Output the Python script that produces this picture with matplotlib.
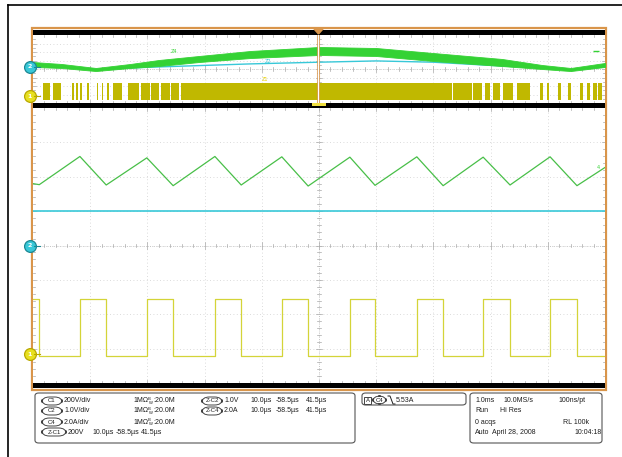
import matplotlib
matplotlib.use('Agg')
import matplotlib.pyplot as plt
from matplotlib.patches import Rectangle, FancyBboxPatch
import numpy as np

W, H = 622, 457

# ---------------- data ----------------
# main (zoomed) window: time in µs, values in divisions
green_t = [-58.5, -57.4, -50.3, -45.7, -38.6, -34.0, -26.7, -22.1, -15.0, -10.4,
           -3.1, 1.3, 8.6, 13.2, 20.2, 24.9, 31.9, 36.6, 41.5]
green_v = [1.80, 1.77, 2.59, 1.76, 2.55, 1.74, 2.59, 1.76, 2.58, 1.73,
           2.57, 1.75, 2.58, 1.74, 2.57, 1.76, 2.58, 1.74, 2.27]
cyan_level = 0.99
sw_rise_t = [-50.3, -38.6, -26.7, -15.0, -3.1, 8.6, 20.2, 31.9]
sw_fall_t = [-57.4, -45.7, -34.0, -22.1, -10.4, 1.3, 13.2, 24.9, 36.6]
sw_high = -1.57
sw_low = -3.20

# overview window: time in ms, values in divisions
env_t = [-5.0, -4.5, -3.9, -3.3, -2.8, -2.1, -1.2, 0.0, 1.0, 2.0, 3.2, 3.9, 4.4, 5.0]
env_hi = [0.82, 0.59, 0.12, 0.59, 1.06, 1.53, 2.12, 2.59, 2.47, 1.88, 1.18, 0.47, 0.12, 0.71]
env_lo = [0.24, 0.12, -0.24, 0.12, 0.35, 0.82, 1.29, 1.65, 1.53, 0.94, 0.35, 0.00, -0.24, 0.24]
cyan_top_t = [-5.0, -4.5, -3.9, -3.0, -2.1, -1.2, 0.0, 1.0, 2.0, 3.2, 3.9, 4.4, 5.0]
cyan_top_v = [0.45, 0.30, -0.05, 0.20, 0.40, 0.60, 0.80, 0.95, 0.80, 0.35, 0.12, -0.10, 0.25]
burst_start = [-4.83, -4.65, -4.32, -4.25, -4.18, -4.06, -3.88, -3.79, -3.71, -3.60,
               -3.34, -3.12, -2.94, -2.77, -2.59, -2.42, 2.35, 2.69, 2.90, 3.04,
               3.22, 3.46, 3.86, 3.99, 4.18, 4.35, 4.56, 4.69, 4.79, 4.88]
burst_end = [-4.70, -4.51, -4.28, -4.21, -4.14, -4.02, -3.86, -3.77, -3.67, -3.44,
             -3.14, -2.96, -2.79, -2.61, -2.44, 2.33, 2.67, 2.85, 2.99, 3.16,
             3.39, 3.69, 3.92, 4.02, 4.23, 4.41, 4.62, 4.74, 4.86, 4.95]
burst_lo, burst_hi = -3.65, -1.65

# readout panel text
ch_rows = [("C1", "200V/div"), ("C2", "1.0V/div"), ("C4", "2.0A/div")]
zoom_rows = [("Z-C2", "1.0V"), ("Z-C4", "2.0A")]
zoom_times = ["10.0µs", "-58.5µs", "41.5µs"]
acq_rows = [["1.0ms", "10.0MS/s", "100ns/pt"],
            ["Run", "Hi Res", ""],
            ["0 acqs", "", "RL 100k"],
            ["Auto", "April 28, 2008", "10:04:18"]]
trig_text = "5.53A"

# ---------------- colours ----------------
GREEN = '#34d234'
GREEN_D = '#48bf48'
CYAN = '#38c8d8'
YEL = '#d4d438'
YEL_D = '#c0b800'
ORANGE = '#d9954a'
TXT = '#1e1e1e'

fig = plt.figure(figsize=(W / 100, H / 100), dpi=100)
fig.patch.set_facecolor('white')


def fx(px):
    return px / W


def fy(py):
    return 1 - py / H


def prect(x0, y0, x1, y1, **kw):
    r = Rectangle((fx(x0), fy(y1)), fx(x1) - fx(x0), fy(y0) - fy(y1),
                  transform=fig.transFigure, **kw)
    fig.add_artist(r)
    return r


# outer frame lines
fig.add_artist(plt.Line2D([fx(8), fx(622)], [fy(5), fy(5)], color='black', lw=1.2,
                          transform=fig.transFigure))
fig.add_artist(plt.Line2D([fx(8), fx(8)], [fy(5), fy(457)], color='black', lw=1.2,
                          transform=fig.transFigure))

# orange screen border
prect(32, 28, 606, 390, facecolor='white', edgecolor=ORANGE, lw=1.6, zorder=0)

TICK = '#a8a8a8'


def setup(ax, xmin, xdiv, ypx, ystep):
    ax.set_facecolor('white')
    for s in ax.spines.values():
        s.set_visible(False)
    ax.set_xticks([])
    ax.set_yticks([])
    xmax = xmin + 10 * xdiv
    ax.set_xlim(xmin, xmax)
    ax.set_ylim(-4, 4)
    for k in range(1, 10):
        ax.axvline(xmin + k * xdiv, color='#cfcfcf', lw=0.6, ls=(0, (1, 3)), zorder=1)
    for k in range(-3, 4):
        ax.axhline(k, color='#cfcfcf', lw=0.6, ls=(0, (1, 3)), zorder=1)
    xc = xmin + 5 * xdiv
    nx = 50
    tx = [xmin + i * xdiv / 5 for i in range(1, nx)]
    ny = int(round(8 / ystep))
    ty = [-4 + i * ystep for i in range(1, ny)]
    hx = 2.0 * xdiv / 57.2
    hy = 2.0 / ypx
    for t in tx:
        major = abs((t - xmin) / xdiv - round((t - xmin) / xdiv)) < 1e-6
        f = 1.6 if major else 1.0
        ax.plot([t, t], [-hy * f, hy * f], color=TICK, lw=0.5, zorder=1)
        ax.plot([t, t], [-4, -4 + hy * f], color=TICK, lw=0.5, zorder=1)
        ax.plot([t, t], [4, 4 - hy * f], color=TICK, lw=0.5, zorder=1)
    for v in ty:
        major = abs(v - round(v)) < 1e-6
        f = 1.6 if major else 1.0
        ax.plot([xc - hx * f, xc + hx * f], [v, v], color=TICK, lw=0.5, zorder=1)
        ax.plot([xmin, xmin + hx * f], [v, v], color=TICK, lw=0.5, zorder=1)
        ax.plot([xmax, xmax - hx * f], [v, v], color=TICK, lw=0.5, zorder=1)
    ax.axhline(0, color='#b0b0b0', lw=0.5, ls=(0, (1, 2)), zorder=1)
    ax.axvline(xc, color='#b0b0b0', lw=0.5, ls=(0, (1, 2)), zorder=1)


def marker(ax, yval, num, face, edge):
    tr = ax.get_yaxis_transform()
    ax.plot([-0.006], [yval], marker='o', ms=8.5, mfc=face, mec=edge, mew=0.9,
            transform=tr, clip_on=False, zorder=6)
    ax.text(-0.006, yval, num, transform=tr, ha='center', va='center',
            fontsize=4.5, color='white', fontweight='bold', zorder=7, clip_on=False)
    ax.plot([0.002, 0.012], [yval, yval], color=edge, lw=0.8, transform=tr,
            clip_on=False, zorder=6)


# ---------------- overview window ----------------
ax_top = fig.add_axes([fx(33), fy(103), fx(605) - fx(33), fy(35) - fy(103)])
setup(ax_top, -5.0, 1.0, 8.5, 0.5)
ax_top.fill_between(env_t, env_lo, env_hi, color=GREEN, lw=0.6, edgecolor=GREEN, zorder=3)
ax_top.plot(cyan_top_t, cyan_top_v, color=CYAN, lw=1.0, zorder=2)
ax_top.broken_barh([(s, e - s) for s, e in zip(burst_start, burst_end)],
                   (burst_lo, burst_hi - burst_lo), facecolor=YEL_D, edgecolor='none', zorder=3)
ax_top.text(-2.6, 1.9, "Z4", fontsize=3.5, color=GREEN, zorder=4)
ax_top.text(-0.95, 0.7, "Z2", fontsize=3.5, color=CYAN, zorder=4)
ax_top.text(-1.0, -1.4, "Z1", fontsize=3.5, color='#e8d000', zorder=4)
ax_top.plot([4.85], [2.1], marker='_', ms=4, color=GREEN, zorder=4)
ax_top.axvline(-0.02, color=ORANGE, lw=2.2, alpha=0.8, zorder=4)
ax_top.axvline(-0.02, color='white', lw=0.8, zorder=4)
marker(ax_top, 0.24, "2", CYAN, '#1b8894')
marker(ax_top, -3.18, "1", '#e8e020', '#b8a800')

# ---------------- main window ----------------
ax_main = fig.add_axes([fx(33), fy(383), fx(605) - fx(33), fy(108) - fy(383)])
setup(ax_main, -58.5, 10.0, 34.4, 0.2)
ax_main.plot(green_t, green_v, color=GREEN_D, lw=0.9, zorder=4)
ax_main.axhline(cyan_level, color=CYAN, lw=1.2, zorder=3)

# square wave built from the edge times
edges = sorted([(t, sw_high) for t in sw_rise_t] + [(t, sw_low) for t in sw_fall_t])
sx = [-58.5]
sy = [sw_high]
for t, lvl in edges:
    sx += [t, t]
    sy += [sy[-1], lvl]
sx.append(41.5)
sy.append(sy[-1])
ax_main.plot(sx, sy, color=YEL, lw=0.9, zorder=4)
ax_main.text(40.0, 2.27, "4", fontsize=3.5, color=GREEN, va='center', zorder=5)
marker(ax_main, 0.0, "2", CYAN, '#1b8894')
marker(ax_main, -3.17, "1", '#e8e020', '#b8a800')

# black bars
prect(33, 30, 605, 35, facecolor='black', edgecolor='none', zorder=8)
prect(33, 103, 605, 108, facecolor='black', edgecolor='none', zorder=8)
prect(33, 383, 605, 388, facecolor='black', edgecolor='none', zorder=8)
# trigger marker
fig.add_artist(plt.Polygon([[fx(314), fy(29)], [fx(323), fy(29)], [fx(318.5), fy(34)]],
                           closed=True, color=ORANGE, transform=fig.transFigure, zorder=9))
prect(312, 103, 326, 105.5, facecolor='#f0e040', edgecolor='none', zorder=9)

# ---------------- readout panel ----------------
def box(x0, y0, x1, y1):
    b = FancyBboxPatch((fx(x0), fy(y1)), fx(x1) - fx(x0), fy(y0) - fy(y1),
                       boxstyle="round,pad=0,rounding_size=0.006",
                       transform=fig.transFigure, facecolor='white',
                       edgecolor='#555555', lw=0.8, zorder=2)
    fig.add_artist(b)


box(35, 393, 355, 443)
box(362, 393, 466, 405)
box(470, 393, 602, 443)

FS = 5.0
FONT = 'Liberation Sans'


def t(px, py, s, size=FS, **kw):
    fig.text(fx(px), fy(py), s, fontsize=size, color=TXT, family=FONT,
             va='center', ha='left', zorder=5, **kw)


def oval(px0, px1, py, s):
    b = FancyBboxPatch((fx(px0), fy(py + 4)), fx(px1) - fx(px0), fy(py - 4) - fy(py + 4),
                       boxstyle="round,pad=0,rounding_size=0.012",
                       transform=fig.transFigure, facecolor='white',
                       edgecolor='#444444', lw=0.7, zorder=4)
    fig.add_artist(b)
    fig.text(fx((px0 + px1) / 2), fy(py), s, fontsize=4.3, color=TXT, family=FONT,
             ha='center', va='center', zorder=5)


rows_y = [401, 411, 422, 432]
for (ch, sc), y in zip(ch_rows, rows_y):
    oval(42, 62, y, ch)
    t(64, y, sc)
    t(133, y, "1MΩ")
    t(148, y - 1.8, "B", size=3.0)
    t(149, y + 1.8, "W", size=3.0)
    t(153, y, ":20.0M")
for (ch, sc), y in zip(zoom_rows, rows_y[:2]):
    oval(202, 222, y, ch)
    t(224, y, sc)
    t(250, y, zoom_times[0])
    t(276, y, zoom_times[1])
    t(306, y, zoom_times[2])
oval(42, 66, rows_y[3], "Z-C1")
t(68, rows_y[3], "200V")
t(92, rows_y[3], zoom_times[0])
t(116, rows_y[3], zoom_times[1])
t(141, rows_y[3], zoom_times[2])

# trigger box
prect(364, 396.5, 371, 403.5, facecolor='white', edgecolor='#444444', lw=0.7, zorder=4)
fig.text(fx(367.5), fy(400), "A", fontsize=4.3, color=TXT, family=FONT,
         ha='center', va='center', zorder=5)
oval(373, 386, 400, "C4")
fig.add_artist(plt.Line2D([fx(388), fx(390), fx(393), fx(395)],
                          [fy(396), fy(396), fy(404), fy(404)], color=TXT, lw=0.7,
                          transform=fig.transFigure, zorder=5))
t(396, 400, trig_text)

acq_x = [475, 503, 558]
acq_x2 = {1: [475, 500, 0], 2: [475, 0, 563], 3: [475, 492, 574]}
for i, (row, y) in enumerate(zip(acq_rows, rows_y)):
    xs = acq_x if i == 0 else acq_x2[i]
    for s, x in zip(row, xs):
        if s:
            t(x, y, s)

fig.savefig('out.png', dpi=100, facecolor='white')
